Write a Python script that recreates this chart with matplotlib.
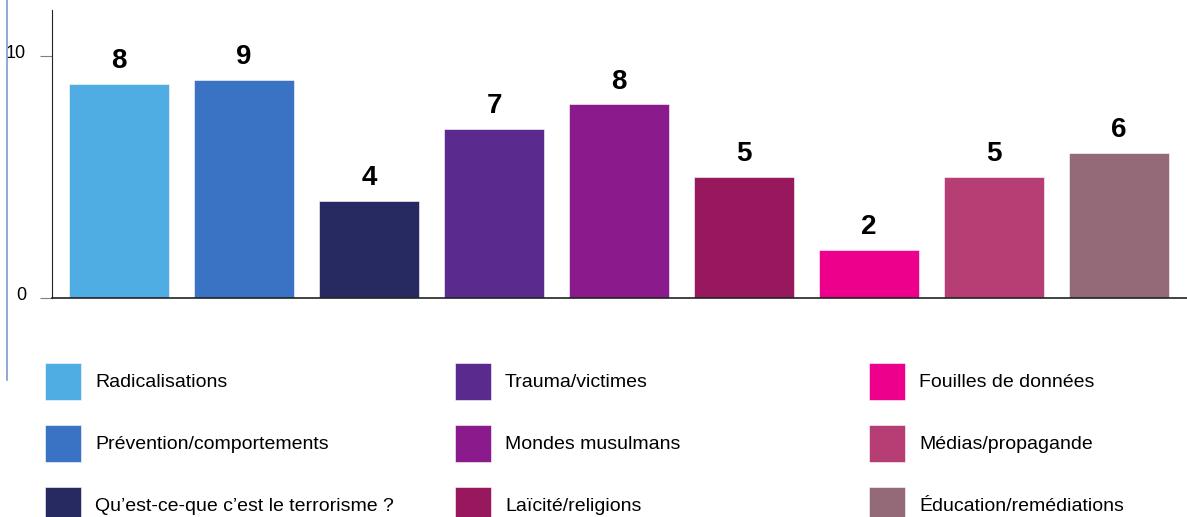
import matplotlib
matplotlib.use("Agg")
import matplotlib.pyplot as plt
import matplotlib.transforms as mtransforms
from matplotlib.lines import Line2D

plt.rcParams["font.family"] = ["Liberation Sans", "DejaVu Sans"]

# thèmes (ordre des barres et de la légende)
themes = [
    "Radicalisations",
    "Prévention/comportements",
    "Qu\u2019est-ce-que c\u2019est le terrorisme ?",
    "Trauma/victimes",
    "Mondes musulmans",
    "Laïcité/religions",
    "Fouilles de données",
    "Médias/propagande",
    "Éducation/remédiations",
]
bar_heights = [8.85, 9, 4, 7, 8, 5, 2, 5, 6]
bar_labels = ["8", "9", "4", "7", "8", "5", "2", "5", "6"]
colors = ["#4FADE3", "#3A72C4", "#262A60", "#5B2A8E", "#8B1A8C",
          "#97185C", "#EC008C", "#B63E74", "#946A78"]
y_ticks = [0, 10]

fig = plt.figure(figsize=(11.87, 5.17), dpi=100)
ax = fig.add_axes([52 / 1187, 1 - 298 / 517, 1 - 52 / 1187, (298 - 10) / 517])

x = list(range(len(themes)))
bars = ax.bar(x, bar_heights, width=0.8, color=colors, label=themes,
              edgecolor="white", linewidth=0.4)

for b, lab in zip(bars, bar_labels):
    ax.annotate(lab, (b.get_x() + b.get_width() / 2, b.get_height()),
                xytext=(0, 7), textcoords="offset points",
                ha="center", va="bottom", fontsize=20, fontweight="bold")

ax.set_xlim(-0.536, 8.544)
ax.set_ylim(0, 11.9)
ax.set_xticks([])
ax.set_yticks(y_ticks)
ax.tick_params(axis="y", length=8.6, width=0.8, color="#7f7f7f",
               labelsize=13, pad=10)
# labels légèrement au-dessus des graduations
shift = mtransforms.ScaledTranslation(0, 3 / 72, fig.dpi_scale_trans)
for lbl in ax.get_yticklabels():
    lbl.set_transform(lbl.get_transform() + shift)
for side in ["top", "right"]:
    ax.spines[side].set_visible(False)
ax.spines["left"].set_color("#222222")
ax.spines["bottom"].set_color("#222222")
ax.spines["bottom"].set_linewidth(1.2)

# légende : trois colonnes de largeur égale
col_x = [45, 455, 869]
for c in range(3):
    idx = range(c * 3, c * 3 + 3)
    fig.legend([bars[i] for i in idx], [themes[i] for i in idx],
               loc="upper left",
               bbox_to_anchor=(col_x[c] / 1187, 1 - 363 / 517),
               frameon=False, fontsize=14, borderpad=0, borderaxespad=0,
               handlelength=1.85, handleheight=2.52, handletextpad=0.72,
               labelspacing=1.3)

# filet bleu à gauche
fig.add_artist(Line2D([7 / 1187, 7 / 1187], [1, 1 - 380 / 517],
                      color="#7A9CC8", linewidth=1.2))

fig.savefig("out.png", dpi=100)
